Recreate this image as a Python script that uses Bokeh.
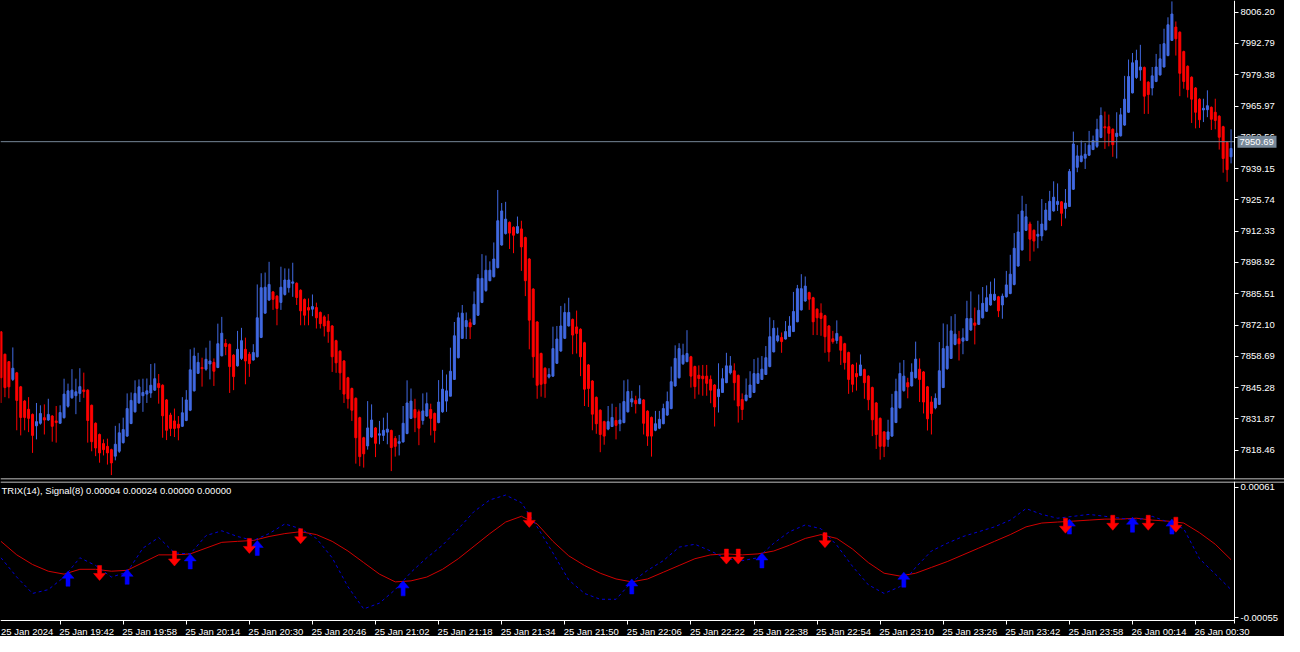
import pandas as pd
from bokeh.plotting import figure
from bokeh.layouts import column
from bokeh.models import (ColumnDataSource, Range1d, FixedTicker, Span, Label,
                          PrintfTickFormatter, LinearAxis)
from bokeh.core.properties import value
from bokeh.embed import file_html
from bokeh.resources import INLINE

# ---------------- data (M1 bars, 25 Jan 2024 19:27 -> 26 Jan 00:39) ----------------
first_bar_time = "2024-01-25 19:27"

opens = [
    7869.2, 7859.6, 7856.4, 7848.8, 7851.6, 7845.6, 7839.5, 7836.0, 7833.8, 7828.9,
    7830.0, 7832.4, 7831.4, 7833.1, 7831.0, 7830.0, 7832.4, 7837.3, 7840.9, 7841.8,
    7842.8, 7844.3, 7844.2, 7837.7, 7830.0, 7825.2, 7821.3, 7820.1, 7818.7, 7815.9,
    7818.0, 7821.7, 7824.5, 7829.9, 7834.9, 7838.7, 7841.8, 7842.5, 7843.0, 7844.2,
    7847.0, 7846.3, 7840.0, 7833.5, 7831.0, 7829.6, 7828.7, 7831.2, 7835.6, 7843.9,
    7851.4, 7853.9, 7853.2, 7855.4, 7856.1, 7853.9, 7858.9, 7864.2, 7863.8, 7859.2,
    7854.6, 7857.8, 7861.7, 7859.6, 7857.1, 7858.5, 7866.8, 7877.2, 7882.8, 7886.3,
    7884.5, 7881.8, 7885.2, 7888.1, 7890.0, 7890.0, 7887.0, 7883.1, 7879.6, 7878.9,
    7879.6, 7877.5, 7875.6, 7873.8, 7871.7, 7865.4, 7860.9, 7856.7, 7849.5, 7844.9,
    7840.7, 7832.4, 7823.8, 7820.3, 7824.1, 7828.0, 7824.9, 7824.8, 7826.2, 7826.9,
    7823.5, 7821.4, 7822.0, 7825.6, 7832.1,
    7835.9, 7834.9, 7831.2, 7833.1, 7835.9, 7834.2, 7830.3, 7834.9, 7839.5, 7841.6,
    7848.8, 7858.1, 7866.4, 7871.4, 7873.1, 7872.4, 7876.3, 7881.8, 7886.9, 7891.1,
    7892.8, 7896.7, 7906.4, 7911.3, 7916.1, 7914.0, 7911.5, 7913.3, 7909.6, 7900.4,
    7887.5, 7873.4, 7859.9, 7853.6, 7849.8, 7850.2, 7855.7, 7861.0, 7866.4, 7871.7,
    7874.5, 7871.3, 7870.3, 7864.5, 7855.0, 7848.1, 7841.1, 7835.6, 7830.7, 7827.5,
    7828.6, 7831.2, 7829.8, 7830.3, 7834.9, 7839.1, 7839.8, 7838.4, 7840.0, 7835.2,
    7832.5, 7827.0, 7827.9, 7829.8, 7833.5, 7836.3, 7846.0, 7849.5, 7855.5, 7856.4,
    7858.5, 7854.3, 7850.6, 7850.2, 7850.2, 7848.8, 7846.4, 7841.4, 7843.2, 7847.4,
    7851.6, 7852.5, 7850.5, 7840.2, 7839.8, 7841.1, 7843.2, 7847.1, 7848.8, 7850.9,
    7854.3, 7860.6, 7865.4, 7866.8, 7866.1, 7867.2, 7869.3, 7873.5, 7878.6, 7882.4,
    7886.0, 7883.8, 7878.9, 7877.2, 7876.1,
    7871.7, 7866.2, 7865.5, 7867.1, 7864.1, 7860.3, 7855.0, 7851.3, 7850.5, 7853.0,
    7850.2, 7845.3, 7838.7, 7832.1, 7826.3, 7823.1, 7824.5, 7830.3, 7836.6, 7844.0,
    7847.4, 7846.0, 7849.5, 7853.2, 7852.0, 7845.6, 7839.1, 7836.6, 7838.1, 7845.3,
    7853.4, 7857.8, 7863.8, 7866.2, 7865.2, 7865.5, 7870.0, 7873.0, 7872.4, 7875.2,
    7878.0, 7880.7, 7882.8, 7884.2, 7880.7, 7884.2, 7885.6, 7889.5, 7897.4, 7904.3,
    7912.7, 7915.4, 7912.7, 7910.2, 7910.3, 7912.9, 7917.1, 7921.0, 7923.8, 7924.9,
    7922.1, 7922.9, 7930.3, 7939.7, 7942.2, 7943.6, 7944.9, 7947.3, 7948.7, 7952.5,
    7957.1, 7957.1, 7956.0, 7952.9, 7953.2, 7957.8, 7963.3, 7971.6, 7978.2, 7981.4,
    7982.5, 7976.2, 7973.7, 7976.5, 7979.3, 7982.7, 7987.6, 7994.1, 7999.8, 7997.6,
    7989.3, 7983.0, 7978.3, 7973.7, 7968.9, 7964.3, 7964.4, 7965.4, 7963.3, 7961.6,
    7957.1, 7950.4, 7944.2,
]

highs = [
    7869.5, 7859.8, 7856.6, 7862.5, 7852.0, 7846.0, 7840.0, 7841.2, 7834.2, 7838.7,
    7837.7, 7838.1, 7840.5, 7833.5, 7837.4, 7837.7, 7849.1, 7847.0, 7853.2, 7849.1,
    7853.6, 7851.7, 7844.6, 7838.0, 7830.4, 7825.6, 7823.1, 7823.4, 7819.1, 7828.9,
    7830.0, 7832.4, 7842.8, 7843.2, 7848.4, 7848.8, 7849.1, 7849.2, 7855.4, 7855.7,
    7851.1, 7846.7, 7840.4, 7834.5, 7836.3, 7833.1, 7841.2, 7844.2, 7861.7, 7862.4,
    7860.2, 7858.1, 7862.4, 7865.4, 7857.8, 7872.7, 7875.6, 7866.1, 7864.2, 7859.6,
    7869.6, 7870.9, 7866.7, 7860.6, 7863.9, 7889.5, 7894.3, 7894.6, 7899.2, 7886.7,
    7884.9, 7897.1, 7896.4, 7896.3, 7898.8, 7890.4, 7887.4, 7883.5, 7883.5, 7885.2,
    7881.7, 7877.9, 7876.3, 7876.8, 7872.1, 7865.8, 7861.3, 7857.1, 7849.9, 7845.3,
    7841.1, 7832.8, 7824.2, 7839.5, 7838.1, 7828.4, 7831.0, 7832.4, 7834.5, 7827.3,
    7824.5, 7825.0, 7837.4, 7848.4, 7844.9,
    7840.5, 7835.9, 7842.8, 7843.2, 7838.4, 7834.6, 7848.5, 7852.9, 7850.9, 7862.4,
    7873.4, 7877.5, 7880.7, 7877.5, 7874.8, 7886.5, 7893.9, 7902.5, 7901.9, 7899.4,
    7907.5, 7930.0, 7924.4, 7924.9, 7916.5, 7914.4, 7918.6, 7916.8, 7910.0, 7900.8,
    7887.9, 7873.8, 7860.3, 7854.0, 7853.6, 7871.4, 7871.7, 7880.3, 7881.4, 7883.8,
    7874.9, 7878.3, 7870.7, 7864.9, 7855.4, 7848.5, 7841.5, 7836.0, 7831.1, 7837.4,
    7838.4, 7837.0, 7838.6, 7848.4, 7848.8, 7843.9, 7841.8, 7846.3, 7840.4, 7835.6,
    7832.9, 7835.3, 7835.3, 7838.4, 7843.6, 7854.3, 7863.4, 7864.3, 7864.1, 7869.9,
    7858.9, 7854.7, 7854.8, 7855.0, 7855.0, 7850.5, 7846.8, 7855.7, 7853.6, 7860.2,
    7858.8, 7855.7, 7850.9, 7842.8, 7849.2, 7852.3, 7857.5, 7858.1, 7858.8, 7863.1,
    7875.4, 7874.2, 7871.0, 7868.9, 7873.8, 7875.9, 7886.3, 7889.3, 7893.9, 7892.9,
    7886.4, 7884.2, 7879.3, 7881.4, 7876.5,
    7872.1, 7869.6, 7874.1, 7867.5, 7864.5, 7860.7, 7855.4, 7856.0, 7859.5, 7853.4,
    7850.6, 7845.7, 7839.1, 7832.5, 7826.7, 7831.5, 7842.6, 7849.1, 7856.0, 7857.1,
    7849.5, 7855.7, 7865.0, 7857.8, 7852.4, 7846.0, 7841.6, 7842.8, 7864.8, 7872.8,
    7872.4, 7875.9, 7876.8, 7869.6, 7870.7, 7882.5, 7886.5, 7879.6, 7885.2, 7888.4,
    7889.1, 7890.7, 7892.1, 7884.6, 7885.6, 7895.3, 7902.2, 7911.5, 7919.6, 7927.5,
    7924.0, 7916.4, 7913.1, 7916.8, 7926.1, 7924.4, 7929.6, 7933.7, 7932.8, 7925.2,
    7930.4, 7939.0, 7955.0, 7949.2, 7951.2, 7950.1, 7955.3, 7953.3, 7960.5, 7965.4,
    7963.6, 7962.3, 7956.4, 7963.3, 7965.1, 7978.9, 7985.9, 7988.7, 7990.1, 7992.2,
    7982.9, 7976.6, 7982.7, 7988.3, 7992.5, 7999.1, 8004.0, 8010.8, 8002.2, 7998.0,
    7989.7, 7983.4, 7978.7, 7974.1, 7969.3, 7969.1, 7972.7, 7965.8, 7969.1, 7962.0,
    7957.5, 7950.8, 7956.0,
]

lows = [
    7838.7, 7841.2, 7840.7, 7848.1, 7827.0, 7824.8, 7827.0, 7826.2, 7817.3, 7823.1,
    7829.4, 7825.2, 7831.0, 7822.1, 7821.7, 7829.8, 7832.0, 7836.7, 7840.5, 7833.9,
    7839.1, 7840.9, 7821.7, 7818.0, 7815.9, 7813.1, 7816.2, 7812.3, 7807.8, 7814.1,
    7817.3, 7821.3, 7824.2, 7829.6, 7834.6, 7838.4, 7834.9, 7838.7, 7840.9, 7843.9,
    7838.4, 7823.8, 7822.8, 7824.5, 7824.1, 7822.7, 7828.4, 7830.9, 7835.2, 7843.6,
    7851.1, 7845.7, 7852.5, 7848.8, 7846.0, 7853.6, 7858.7, 7859.2, 7843.0, 7844.2,
    7854.3, 7857.1, 7846.7, 7849.9, 7856.9, 7858.2, 7866.5, 7877.0, 7882.5, 7878.6,
    7872.0, 7878.6, 7884.7, 7886.0, 7884.2, 7880.7, 7872.0, 7872.0, 7872.0, 7875.9,
    7870.6, 7870.6, 7867.2, 7864.5, 7852.0, 7851.6, 7844.3, 7838.7, 7836.3, 7831.0,
    7812.7, 7811.6, 7811.0, 7818.7, 7823.8, 7815.5, 7821.0, 7822.4, 7821.0, 7809.5,
    7815.7, 7816.2, 7821.7, 7825.3, 7831.8,
    7826.2, 7820.6, 7829.4, 7832.8, 7824.8, 7821.7, 7830.0, 7834.5, 7834.9, 7841.6,
    7848.6, 7857.8, 7866.2, 7866.1, 7866.1, 7872.1, 7876.0, 7881.5, 7886.3, 7890.9,
    7892.5, 7896.4, 7906.1, 7910.9, 7904.7, 7902.9, 7911.2, 7895.3, 7884.5, 7861.7,
    7849.5, 7840.5, 7841.4, 7840.9, 7849.2, 7849.9, 7855.5, 7860.6, 7866.1, 7871.5,
    7859.6, 7859.9, 7850.2, 7837.4, 7837.0, 7827.0, 7825.5, 7817.6, 7820.8, 7827.0,
    7828.4, 7823.1, 7826.6, 7830.0, 7834.6, 7837.0, 7834.2, 7838.2, 7825.2, 7820.3,
    7815.7, 7826.6, 7827.5, 7829.6, 7833.2, 7836.0, 7845.7, 7849.2, 7855.0, 7856.2,
    7845.3, 7840.5, 7842.3, 7841.8, 7841.8, 7838.6, 7828.6, 7834.6, 7843.0, 7847.2,
    7850.9, 7839.8, 7830.3, 7831.4, 7839.3, 7840.9, 7843.0, 7847.0, 7848.6, 7850.7,
    7854.0, 7860.4, 7864.7, 7860.2, 7865.9, 7867.0, 7869.1, 7873.3, 7878.3, 7882.1,
    7878.6, 7867.8, 7867.8, 7867.5, 7860.2,
    7856.4, 7864.1, 7864.1, 7855.0, 7853.0, 7842.6, 7843.3, 7844.0, 7850.2, 7840.5,
    7835.6, 7824.5, 7819.0, 7814.4, 7815.5, 7819.9, 7824.2, 7830.1, 7836.3, 7843.5,
    7840.7, 7845.8, 7849.2, 7839.1, 7834.2, 7826.9, 7825.2, 7836.0, 7837.9, 7845.1,
    7852.9, 7857.6, 7863.4, 7856.9, 7859.6, 7865.2, 7869.6, 7863.8, 7872.1, 7874.9,
    7877.7, 7880.4, 7882.4, 7875.5, 7874.8, 7883.9, 7885.3, 7889.1, 7897.1, 7904.0,
    7912.4, 7899.5, 7903.6, 7905.0, 7908.2, 7912.6, 7916.8, 7920.7, 7921.0, 7914.5,
    7917.8, 7922.8, 7930.0, 7937.6, 7941.8, 7939.0, 7944.6, 7947.1, 7948.0, 7952.2,
    7947.6, 7948.7, 7944.2, 7943.5, 7952.9, 7957.5, 7963.0, 7971.4, 7977.6, 7976.8,
    7962.6, 7962.6, 7970.5, 7976.2, 7979.0, 7982.5, 7987.3, 7993.9, 7987.6, 7970.2,
    7973.4, 7969.6, 7958.7, 7956.4, 7956.6, 7959.1, 7961.2, 7955.7, 7956.0, 7947.3,
    7937.4, 7933.5, 7941.4,
]

closes = [
    7849.5, 7845.3, 7845.6, 7853.6, 7839.8, 7832.5, 7832.5, 7832.1, 7824.8, 7830.7,
    7834.2, 7831.4, 7833.8, 7828.7, 7830.3, 7834.6, 7842.5, 7843.9, 7844.2, 7843.5,
    7845.7, 7843.6, 7831.2, 7822.1, 7819.4, 7817.3, 7818.7, 7817.3, 7813.0, 7821.0,
    7825.9, 7827.3, 7836.3, 7839.8, 7842.8, 7845.6, 7843.2, 7843.9, 7846.3, 7849.1,
    7845.3, 7833.2, 7827.0, 7827.8, 7827.8, 7828.0, 7834.5, 7840.0, 7852.9, 7858.8,
    7856.1, 7853.4, 7857.4, 7856.7, 7852.3, 7864.1, 7868.6, 7862.9, 7854.3, 7850.0,
    7861.7, 7865.4, 7856.7, 7855.6, 7860.3, 7875.2, 7888.1, 7888.3, 7889.5, 7883.1,
    7879.2, 7888.3, 7891.4, 7891.4, 7890.6, 7883.9, 7878.2, 7876.3, 7878.5, 7880.0,
    7875.2, 7872.7, 7871.7, 7869.3, 7858.5, 7855.9, 7851.6, 7842.5, 7840.5, 7835.6,
    7823.8, 7815.7, 7816.9, 7828.0, 7831.4, 7821.4, 7825.5, 7827.0, 7827.5, 7819.6,
    7820.1, 7822.1, 7830.0, 7838.7, 7839.5,
    7832.4, 7827.9, 7835.3, 7838.4, 7832.1, 7826.9, 7839.1, 7844.6, 7843.9, 7852.3,
    7867.5, 7875.2, 7877.2, 7874.0, 7871.3, 7881.0, 7892.1, 7892.1, 7895.6, 7895.6,
    7900.4, 7916.8, 7921.0, 7917.5, 7911.5, 7910.6, 7914.3, 7905.6, 7891.1, 7874.2,
    7858.5, 7846.3, 7846.7, 7847.0, 7850.9, 7862.0, 7866.1, 7871.7, 7877.5, 7877.5,
    7867.8, 7868.5, 7858.5, 7844.6, 7844.9, 7833.9, 7829.8, 7825.2, 7824.5, 7830.7,
    7832.5, 7829.1, 7831.4, 7839.3, 7843.6, 7840.5, 7838.4, 7840.5, 7830.0, 7824.5,
    7824.5, 7829.8, 7831.7, 7836.3, 7839.3, 7847.8, 7857.8, 7862.0, 7859.2, 7859.9,
    7850.2, 7845.7, 7849.2, 7849.1, 7847.1, 7844.2, 7837.0, 7844.6, 7849.1, 7854.6,
    7854.6, 7847.4, 7837.4, 7835.9, 7842.1, 7846.4, 7851.3, 7851.3, 7853.2, 7858.1,
    7867.1, 7870.7, 7867.5, 7865.0, 7869.3, 7871.7, 7877.9, 7887.7, 7887.7, 7888.8,
    7883.2, 7873.5, 7875.2, 7874.9, 7867.1,
    7860.6, 7865.0, 7868.5, 7861.3, 7856.0, 7848.8, 7846.7, 7849.9, 7855.0, 7847.4,
    7840.1, 7831.5, 7825.2, 7820.1, 7820.1, 7826.3, 7836.6, 7843.7, 7851.3, 7850.2,
    7845.6, 7851.9, 7857.5, 7848.8, 7839.1, 7831.9, 7834.2, 7840.7, 7852.5, 7862.0,
    7863.0, 7869.6, 7868.2, 7864.1, 7866.6, 7874.9, 7874.9, 7872.0, 7878.4, 7881.4,
    7883.8, 7885.3, 7885.3, 7878.2, 7884.5, 7889.3, 7893.9, 7905.0, 7912.0, 7921.0,
    7918.5, 7908.9, 7908.1, 7911.0, 7915.4, 7921.4, 7925.1, 7926.9, 7925.1, 7920.0,
    7924.4, 7937.9, 7949.7, 7944.6, 7944.6, 7945.3, 7949.2, 7951.2, 7956.0, 7961.9,
    7956.6, 7954.3, 7949.4, 7954.3, 7962.2, 7968.9, 7978.6, 7984.5, 7985.5, 7982.7,
    7970.2, 7970.9, 7978.9, 7982.7, 7986.2, 7992.7, 8000.8, 8005.4, 7994.8, 7980.0,
    7976.5, 7973.0, 7968.9, 7963.3, 7960.1, 7965.0, 7966.1, 7960.3, 7959.8, 7952.6,
    7943.5, 7938.7, 7947.8,
]

current_price = 7950.69
price_ticks = [8006.20, 7992.79, 7979.38, 7965.97, 7952.56, 7939.15, 7925.74, 7912.33,
               7898.92, 7885.51, 7872.10, 7858.69, 7845.28, 7831.87, 7818.46]
price_view = (7805.9, 8011.2)

# TRIX indicator, read every 4th bar
ind_bars = list(range(0, 313, 4))
signal_vals = [
    0.000129, 0.0000086, -0.0000773, -0.000137, -0.000163, -0.000120, -0.000120, -0.000137,
    -0.000129, -0.0000602, 0.0000086, 0.0000086, 0.0000172, 0.0000687, 0.000120, 0.000129,
    0.000137, 0.000172, 0.000198, 0.000215, 0.000189, 0.000129, 0.0000430, -0.0000602,
    -0.000163, -0.000232, -0.000223, -0.000189, -0.000120, -0.0000258, 0.0000859, 0.000198,
    0.000301, 0.000352, 0.000284, 0.000129, 0.0, -0.0000859, -0.000155, -0.000206,
    -0.000232, -0.000206, -0.000146, -0.0000859, -0.0000258, 0.0000086, 0.0000172, 0.0000086,
    0.0000172, 0.0000430, 0.0000945, 0.000155, 0.000189, 0.000155, 0.0000602, -0.0000602,
    -0.000155, -0.000180, -0.000155, -0.000103, -0.0000516, 0.0000086, 0.0000687, 0.000129,
    0.000189, 0.000258, 0.000292, 0.000301, 0.000309, 0.000318, 0.000327, 0.000327,
    0.000335, 0.000318, 0.000309, 0.000292, 0.000206, 0.000103, -0.0000344,
]
trix_vals = [
    -0.0000172, -0.000189, -0.000335, -0.000301, -0.000189, -0.0000172, -0.0000859, -0.000189,
    -0.000146, 0.0000687, 0.000163, 0.0000258, 0.0000172, 0.000180, 0.000223, 0.000172,
    0.000137, 0.000198, 0.000284, 0.000241, 0.000155, -0.0000172, -0.000275, -0.000473,
    -0.000421, -0.000301, -0.000146, -0.0000172, 0.0000945, 0.000241, 0.000395, 0.000498,
    0.000541, 0.000473, 0.000258, 0.0000258, -0.000215, -0.000335, -0.000387, -0.000387,
    -0.000232, -0.000129, -0.0000430, 0.0000773, 0.000103, 0.0000430, -0.0000258, -0.0000430,
    -0.0000172, 0.000112, 0.000215, 0.000275, 0.000241, 0.0000945, -0.0000945, -0.000258,
    -0.000335, -0.000275, -0.000103, 0.0000430, 0.000112, 0.000172, 0.000215, 0.000258,
    0.000318, 0.000421, 0.000369, 0.000335, 0.000352, 0.000369, 0.000352, 0.000335,
    0.000318, 0.000352, 0.000301, 0.000241, -0.0000258, -0.000163, -0.000301,
]
up_bars = [17, 32, 48, 65, 102, 160, 193, 229, 271, 287, 297]
up_vals = [-0.000137, -0.000120, 0.0000172, 0.000137, -0.000223, -0.000206, 0.0000258,
           -0.000146, 0.000327, 0.000344, 0.000327]
down_bars = [25, 44, 63, 76, 134, 184, 187, 209, 270, 282, 291, 298]
down_vals = [-0.0000859, 0.0000430, 0.000155, 0.000241, 0.000387, 0.0000602, 0.0000602,
             0.000206, 0.000335, 0.000361, 0.000361, 0.000344]
ind_ticks = [0.00061, -0.00055]
ind_view = (-0.000576, 0.000662)
ind_title = "TRIX(14), Signal(8) 0.00004 0.00024 0.00000 0.00000"

date_label = "25 Jan 2024"
time_labels = ["25 Jan 19:42", "25 Jan 19:58", "25 Jan 20:14", "25 Jan 20:30",
               "25 Jan 20:46", "25 Jan 21:02", "25 Jan 21:18", "25 Jan 21:34", "25 Jan 21:50",
               "25 Jan 22:06", "25 Jan 22:22", "25 Jan 22:38", "25 Jan 22:54", "25 Jan 23:10",
               "25 Jan 23:26", "25 Jan 23:42", "25 Jan 23:58", "26 Jan 00:14", "26 Jan 00:30"]

# ---------------- layout constants (pixels) ----------------
FRAME_W = 1284      # whole page width used by the frames
CHART_W = 1234      # bar area, price scale drawn to its right
MAIN_H = 479
GAP = 2
IND_FRAME_H = 155
IND_H = 139         # indicator area; rest holds the time labels
BULL = "#4169E1"
BEAR = "#FF0000"
FONT = "Liberation Sans"
FS = "9.5px"
TXT = "#FFFFFF"
TAG_BG = "#778899"

n = len(closes)
times = pd.date_range(first_bar_time, periods=n, freq="min")
x_start = -0.125
axis_x = n - 0.125
ux = (axis_x - x_start) / CHART_W
xr = Range1d(x_start, x_start + FRAME_W * ux)


def style_axis(ax):
    ax.axis_line_color = "white"
    ax.major_tick_line_color = "white"
    ax.major_tick_out = 4
    ax.major_tick_in = 0
    ax.minor_tick_line_color = None
    ax.major_label_text_color = TXT
    ax.major_label_text_font = FONT
    ax.major_label_text_font_size = FS
    ax.major_label_standoff = 2


# ---------------- main price panel ----------------
colors = [BULL if c >= o else BEAR for o, c in zip(opens, closes)]
src = ColumnDataSource(dict(
    x=list(range(n)), o=opens, h=highs, l=lows, c=closes,
    top=[max(o, c) for o, c in zip(opens, closes)],
    bot=[min(o, c) for o, c in zip(opens, closes)],
    color=colors))

uy1 = (price_view[1] - price_view[0]) / MAIN_H
p1 = figure(frame_width=FRAME_W, frame_height=MAIN_H, x_range=xr,
            y_range=Range1d(*price_view), output_backend="svg",
            toolbar_location=None, x_axis_location=None, y_axis_location=None,
            background_fill_color="black", border_fill_color="black",
            outline_line_color=None, min_border_left=0, min_border_right=0,
            min_border_top=0, min_border_bottom=GAP)
p1.grid.visible = False
p1.segment(x0="x", y0="l", x1="x", y1="h", color="color", line_width=1, source=src)
p1.vbar(x="x", width=0.5, top="top", bottom="bot", fill_color="color",
        line_color="color", line_width=1, source=src)
p1.segment(x0=[x_start], x1=[axis_x], y0=[current_price], y1=[current_price],
           line_color=TAG_BG, line_width=1)
p1.add_layout(Span(location=price_view[0] + 0.5 * uy1, dimension="width",
                   line_color="white", line_width=1))

pax = LinearAxis(fixed_location=axis_x, ticker=FixedTicker(ticks=price_ticks),
                 formatter=PrintfTickFormatter(format="%.2f"))
style_axis(pax)
p1.add_layout(pax, "right")

# current-price tag on the scale
TAG_W, TAG_H, TAG_GAP = 39, 12, 3
box = p1.rect(x=[axis_x + (TAG_GAP + TAG_W / 2) * ux], y=[current_price],
              width=TAG_W, height=TAG_H, width_units="screen", height_units="screen",
              fill_color=TAG_BG, line_color=None)
box.level = "overlay"
tag = p1.text(x=[axis_x], y=[current_price], text=[f"{current_price:.2f}"],
              x_offset=TAG_GAP + 2, text_align="left", text_baseline="middle",
              text_font=value(FONT), text_font_size=FS, text_color="white")
tag.level = "overlay"

# ---------------- TRIX panel ----------------
uy2 = (ind_view[1] - ind_view[0]) / IND_H
ind_start = ind_view[0] - (IND_FRAME_H - IND_H) * uy2
p2 = figure(frame_width=FRAME_W, frame_height=IND_FRAME_H, x_range=xr,
            y_range=Range1d(ind_start, ind_view[1]), output_backend="svg",
            toolbar_location=None, x_axis_location=None, y_axis_location=None,
            background_fill_color="black", border_fill_color="black",
            outline_line_color=None, min_border_left=0, min_border_right=0,
            min_border_top=0, min_border_bottom=0)
p2.grid.visible = False
p2.add_layout(Span(location=ind_view[1] - 0.5 * uy2, dimension="width",
                   line_color="white", line_width=1))
p2.line(ind_bars, signal_vals, line_color="#d00000", line_width=1)
p2.line(ind_bars, trix_vals, line_color="#0000d8", line_width=1, line_dash="3 3")

UP_SHAPE = [(0, 0), (6, 7), (2, 7), (2, 15), (-2, 15), (-2, 7), (-6, 7)]
DOWN_SHAPE = [(-2, 0), (2, 0), (2, 8), (6, 8), (0, 15), (-6, 8), (-2, 8)]


def arrow_shapes(bars_, vals_, shape):
    xs = [[b + dx * ux for dx, dy in shape] for b in bars_]
    ys = [[v - dy * uy2 for dx, dy in shape] for v in vals_]
    return xs, ys


uxs, uys = arrow_shapes(up_bars, up_vals, UP_SHAPE)
dxs, dys = arrow_shapes(down_bars, down_vals, DOWN_SHAPE)
p2.patches(uxs, uys, fill_color="#0000FF", line_color="#0000FF", line_width=0.5)
p2.patches(dxs, dys, fill_color="#FF0000", line_color="#FF0000", line_width=0.5)

p2.add_layout(Label(x=x_start, y=ind_view[1], text=ind_title, x_offset=1, y_offset=-3,
                    text_baseline="top", text_align="left", text_font=FONT,
                    text_font_size=FS, text_color=TXT))

iax = LinearAxis(fixed_location=axis_x, ticker=FixedTicker(ticks=ind_ticks),
                 formatter=PrintfTickFormatter(format="%.5f"),
                 bounds=(ind_view[0] - 3 * uy2, ind_view[1]))
style_axis(iax)
p2.add_layout(iax, "right")

tick_pos = [int(times.get_loc(pd.Timestamp(f"2024-01-{lab[:2]} {lab[-5:]}")))
            for lab in time_labels]
tax = LinearAxis(fixed_location=ind_view[0], ticker=FixedTicker(ticks=tick_pos),
                 bounds=(x_start, axis_x),
                 major_label_overrides={p: "" for p in tick_pos})
style_axis(tax)
tax.major_label_text_font_size = "0px"
p2.add_layout(tax, "below")

p2.text(x=tick_pos, y=[ind_view[0]] * len(tick_pos), text=time_labels,
        x_offset=-1, y_offset=5, text_align="left", text_baseline="top",
        text_font=value(FONT), text_font_size=FS, text_color=TXT)
p2.text(x=[0], y=[ind_view[0]], text=[date_label],
        x_offset=0, y_offset=5, text_align="left", text_baseline="top",
        text_font=value(FONT), text_font_size=FS, text_color=TXT)

layout = column(p1, p2, spacing=0, styles={"background-color": "black"})
open("out.html", "w").write(file_html(layout, INLINE))
